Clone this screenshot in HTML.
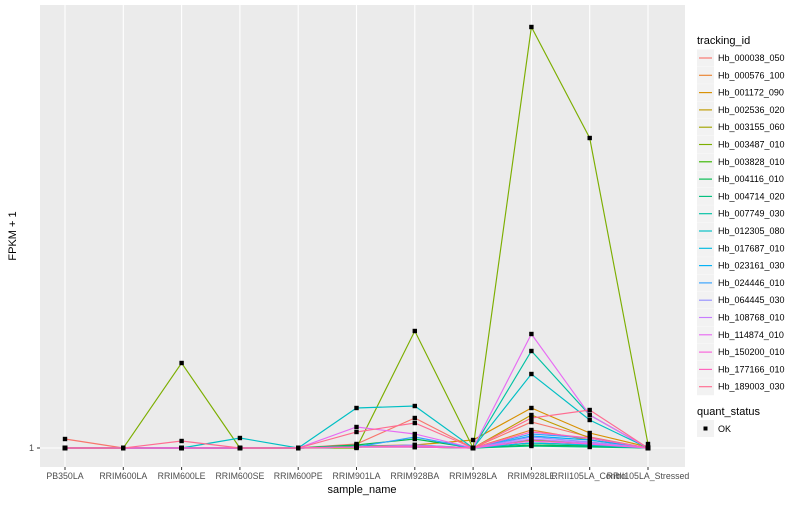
<!DOCTYPE html>
<html><head><meta charset="utf-8"><style>
body{margin:0;background:#fff;}
text{font-family:"Liberation Sans",sans-serif;}
</style></head><body>
<svg id="chart" width="800" height="500" xmlns="http://www.w3.org/2000/svg">
<rect x="40" y="5" width="645" height="462" fill="#ebebeb"/>
<g id="grid"></g><g id="lines"></g><g id="pts"></g><g id="axes"></g><g id="legend"></g>
</svg>
<script>
const samples=["PB350LA","RRIM600LA","RRIM600LE","RRIM600SE","RRIM600PE","RRIM901LA","RRIM928BA","RRIM928LA","RRIM928LE","RRII105LA_Control","RRII105LA_Stressed"];
const ids=["Hb_000038_050","Hb_000576_100","Hb_001172_090","Hb_002536_020","Hb_003155_060","Hb_003487_010","Hb_003828_010","Hb_004116_010","Hb_004714_020","Hb_007749_030","Hb_012305_080","Hb_017687_010","Hb_023161_030","Hb_024446_010","Hb_064445_030","Hb_108768_010","Hb_114874_010","Hb_150200_010","Hb_177166_010","Hb_189003_030"];
const colors=["#F8766D","#EA8331","#D89000","#C09B00","#A3A500","#7CAE00","#39B600","#00BB4E","#00BF7D","#00C1A3","#00BFC4","#00BAE0","#00B0F6","#35A2FF","#9590FF","#C77CFF","#E76BF3","#FA62DB","#FF62BC","#FF6C91"];
// FPKM+1 values per series across samples
const s0=[1.9,1,1,1,1,1.4,4.0,1,3.6,2.1,1];
const s1=[1,1,1,1,1,1.1,1.2,1,2.8,1.8,1];
const s2=[1,1,1,1,1,1.2,1.3,1.8,5.0,2.5,1.1];
const s3=[1,1,1,1,1,1.1,1.2,1,4.3,2.0,1];
const s4=[1,1,1,1,1,1.1,1.1,1,1.8,1.5,1];
const s5=[1,1,9.5,1,1,1,12.7,1,43.1,32.0,1.4];
const s6=[1,1,1,1,1,1.2,1.1,1,1.5,1.3,1];
const s7=[1,1,1,1,1,1.3,1.9,1,1.3,1.2,1];
const s8=[1,1,1,1,1,1.2,1.2,1,1.2,1.1,1];
const s9=[1,1,1,1,1,1.1,1.3,1,10.7,4.3,1];
const s10=[1,1,1,2.0,1,5.0,5.2,1,8.4,3.8,1];
const s11=[1,1,1,1,1,1.1,1.1,1,1.5,1.3,1];
const s12=[1,1,1,1,1,1.1,1.2,1,2.2,1.8,1];
const s13=[1,1,1,1,1,1.1,2.1,1,2.4,2.0,1];
const s14=[1,1,1,1,1,1.1,1.3,1,2.1,1.6,1];
const s15=[1,1,1,1,1,1.1,1.2,1,1.9,1.5,1];
const s16=[1,1,1,1,1,3.1,2.4,1,12.4,4.3,1];
const s17=[1,1,1,1,1,1.1,1.1,1,1.7,1.4,1];
const s18=[1,1,1,1,1,1.1,1.2,1,2.6,2.0,1];
const s19=[1,1,1.7,1,1,2.6,3.5,1,4.0,4.8,1];
const series=[s0,s1,s2,s3,s4,s5,s6,s7,s8,s9,s10,s11,s12,s13,s14,s15,s16,s17,s18,s19];
const yTicks=[1];
const NS="http://www.w3.org/2000/svg";
const xS=i=>65+i*58.3;
const yS=v=>448-(v-1)*10;
function mk(tag,at,parent){const e=document.createElementNS(NS,tag);for(const k in at)e.setAttribute(k,at[k]);document.getElementById(parent).appendChild(e);return e;}
samples.forEach((s,i)=>{const l=mk("line",{x1:xS(i),x2:xS(i),y1:5,y2:467,stroke:"#fff","stroke-width":1.1},"grid");

});
yTicks.forEach(v=>{const l=mk("line",{x1:40,x2:685,y1:yS(v),y2:yS(v),stroke:"#fff","stroke-width":1.1},"grid");

});
series.forEach((d,k)=>{const p=mk("polyline",{points:d.map((v,i)=>xS(i)+","+yS(v)).join(" "),fill:"none",stroke:colors[k],"stroke-width":1.15},"lines");

});
series.forEach((d,k)=>d.forEach((v,i)=>{const r=mk("rect",{x:xS(i)-2.2,y:yS(v)-2.2,width:4.4,height:4.4,fill:"#000"},"pts");

}));
samples.forEach((s,i)=>{mk("line",{x1:xS(i),x2:xS(i),y1:467,y2:470,stroke:"#333"},"axes");
const t=mk("text",{x:xS(i),y:479,"font-size":8.8,fill:"#4d4d4d","text-anchor":"middle"},"axes");t.textContent=s;

});
yTicks.forEach(v=>{mk("line",{x1:37,x2:40,y1:yS(v),y2:yS(v),stroke:"#333"},"axes");
const t=mk("text",{x:34,y:yS(v)+3,"font-size":9,fill:"#4d4d4d","text-anchor":"end"},"axes");t.textContent=v;

});
let t=mk("text",{x:362,y:493,"font-size":11,fill:"#000","text-anchor":"middle"},"axes");t.textContent="sample_name";


t=mk("text",{x:16,y:236,"font-size":11,fill:"#000","text-anchor":"middle",transform:"rotate(-90 16 236)"},"axes");t.textContent="FPKM + 1";


t=mk("text",{x:697,y:44,"font-size":11,fill:"#000"},"legend");t.textContent="tracking_id";


ids.forEach((id,k)=>{const y=58+k*17.3;
const g=mk("g",{},"legend");


const r=document.createElementNS(NS,"rect");r.setAttribute("x",697);r.setAttribute("y",y-8.5);r.setAttribute("width",17);r.setAttribute("height",17);r.setAttribute("fill","#f2f2f2");g.appendChild(r);
const l=document.createElementNS(NS,"line");l.setAttribute("x1",699);l.setAttribute("x2",712);l.setAttribute("y1",y);l.setAttribute("y2",y);l.setAttribute("stroke",colors[k]);l.setAttribute("stroke-width",1.15);g.appendChild(l);
const tx=document.createElementNS(NS,"text");tx.setAttribute("x",718);tx.setAttribute("y",y+3);tx.setAttribute("font-size",9);tx.textContent=id;g.appendChild(tx);});
t=mk("text",{x:697,y:415,"font-size":11,fill:"#000"},"legend");t.textContent="quant_status";


const g2=mk("g",{},"legend");


mk("rect",{x:697,y:420,width:17,height:17,fill:"#f2f2f2"},"legend");
mk("rect",{x:703.5,y:426.5,width:4,height:4,fill:"#000"},"legend");
t=mk("text",{x:718,y:432,"font-size":9},"legend");t.textContent="OK";


</script>
</body></html>
